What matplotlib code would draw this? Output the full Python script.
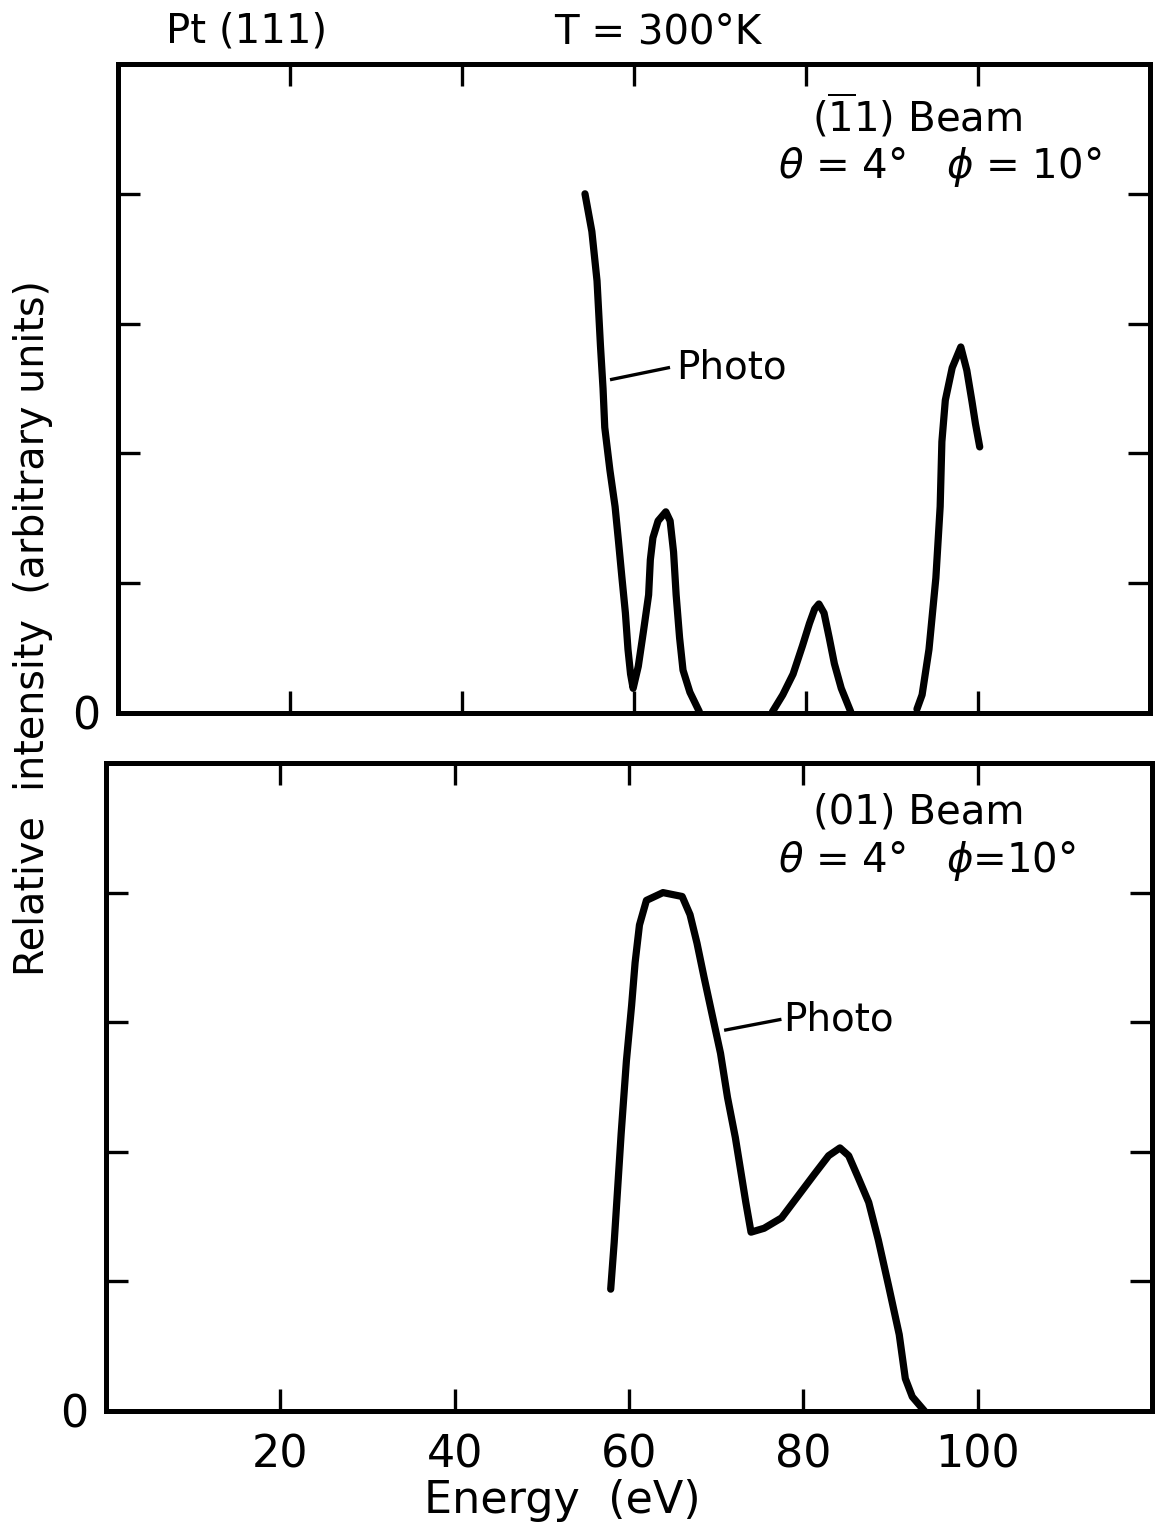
"""
Pt(111) photo peaks, (-11) and (01) beams vs energy
"""
import matplotlib
matplotlib.use("Agg")
import matplotlib.pyplot as plt

plt.rcParams['font.family'] = ['DejaVu Sans']
plt.rcParams['mathtext.fontset'] = 'dejavusans'

# top panel: (-11) beam, three separate traces
top_x1 = [54.3, 55.1, 55.7, 56.1, 56.4, 56.6, 57.2, 57.8, 58.2, 58.6, 59.0, 59.3,
          59.6, 59.9, 60.5, 61.1, 61.7, 61.9, 62.2, 62.8, 63.7, 64.2, 64.6, 64.9,
          65.3, 65.7, 66.5, 67.6]
top_y1 = [4.00, 3.71, 3.33, 2.83, 2.50, 2.20, 1.87, 1.59, 1.32, 1.04, 0.77, 0.49,
          0.30, 0.19, 0.36, 0.63, 0.91, 1.18, 1.35, 1.48, 1.55, 1.48, 1.24, 0.91,
          0.58, 0.33, 0.16, 0.01]
top_x2 = [76.1, 77.3, 78.5, 79.6, 80.4, 81.0, 81.5, 82.1, 82.7, 83.3, 84.1, 85.2]
top_y2 = [0.01, 0.14, 0.30, 0.52, 0.69, 0.80, 0.84, 0.77, 0.58, 0.38, 0.19, 0.01]
top_x3 = [92.9, 93.5, 94.3, 95.1, 95.6, 95.8, 96.2, 97.0, 98.0, 98.7, 99.3, 99.7, 100.2]
top_y3 = [0.03, 0.14, 0.49, 1.04, 1.59, 2.09, 2.41, 2.66, 2.82, 2.64, 2.40, 2.23, 2.05]

# bottom panel: (01) beam
bot_x = [57.9, 58.3, 58.7, 59.1, 59.7, 60.3, 60.7, 61.2, 62.0, 63.9, 66.1, 67.0,
         67.8, 68.6, 69.5, 70.5, 71.3, 72.2, 72.8, 73.4, 74.0, 75.5, 77.5, 79.4,
         81.3, 82.9, 84.2, 85.2, 86.3, 87.5, 88.6, 89.8, 91.0, 91.7, 92.5, 93.9]
bot_y = [0.94, 1.30, 1.72, 2.14, 2.70, 3.13, 3.46, 3.75, 3.94, 4.00, 3.97, 3.83,
         3.61, 3.35, 3.07, 2.76, 2.42, 2.11, 1.86, 1.61, 1.38, 1.41, 1.49, 1.66,
         1.83, 1.97, 2.03, 1.97, 1.80, 1.61, 1.32, 0.96, 0.59, 0.25, 0.11, 0.00]

x_ticks = [20, 40, 60, 80, 100]
x_ticklabels = ["20", "40", "60", "80", "100"]
y_ticks = [0, 1, 2, 3, 4]
y_ticklabels = ["0", "", "", "", ""]

W, H = 1156, 1530
fig = plt.figure(figsize=(W / 100, H / 100), dpi=100)
ax_top = fig.add_axes([118 / W, 1 - 713 / H, 1032 / W, 649 / H])
ax_bot = fig.add_axes([106 / W, 1 - 1411 / H, 1046 / W, 648 / H])

line_kw = dict(color="black", lw=5.2, solid_capstyle="round", solid_joinstyle="round")


def style_axes(ax, show_xlabels):
    ax.set_xlim(0, 120)
    ax.set_ylim(0, 5)
    for sp in ax.spines.values():
        sp.set_linewidth(3.6)
    ax.set_xticks(x_ticks)
    ax.set_xticklabels(x_ticklabels if show_xlabels else [""] * len(x_ticks))
    ax.set_yticks(y_ticks)
    ax.set_yticklabels(y_ticklabels)
    ax.tick_params(direction="in", length=16, width=2.4, top=True, right=True,
                   labelsize=32, color="black")
    ax.tick_params(axis="x", pad=16)
    ax.tick_params(axis="y", pad=13)


ax_top.plot(top_x1, top_y1, **line_kw)
ax_top.plot(top_x2, top_y2, **line_kw)
ax_top.plot(top_x3, top_y3, **line_kw)
ax_top.plot([57.4, 64.0], [2.57, 2.66], color="black", lw=2.4)
ax_top.text(64.9, 2.66, "Photo", fontsize=28, va="center", ha="left")
ax_top.text(92.9, 4.6, r"($\overline{1}$1) Beam", fontsize=29, ha="center", va="center")
ax_top.text(95.6, 4.21, r"$\theta$ = 4°   $\phi$ = 10°", fontsize=29, ha="center", va="center")
style_axes(ax_top, False)

ax_bot.plot(bot_x, bot_y, **line_kw)
ax_bot.plot([71.1, 77.3], [2.94, 3.02], color="black", lw=2.4)
ax_bot.text(77.7, 3.02, "Photo", fontsize=28, va="center", ha="left")
ax_bot.text(93.2, 4.62, "(01) Beam", fontsize=29, ha="center", va="center")
ax_bot.text(94.2, 4.24, r"$\theta$ = 4°   $\phi$=10°", fontsize=29, ha="center", va="center")
style_axes(ax_bot, True)

fig.text(247 / W, 1 - 32 / H, "Pt (111)", fontsize=29, ha="center", va="center")
fig.text(658 / W, 1 - 32 / H, "T = 300°K", fontsize=29, ha="center", va="center")
fig.text(562 / W, 1 - 1501 / H, "Energy  (eV)", fontsize=32, ha="center", va="center")
fig.text(33 / W, 1 - 628 / H, "Relative  intensity  (arbitrary units)", fontsize=28.5,
         rotation=90, ha="center", va="center")

fig.savefig("out.png", dpi=100, facecolor="white")
